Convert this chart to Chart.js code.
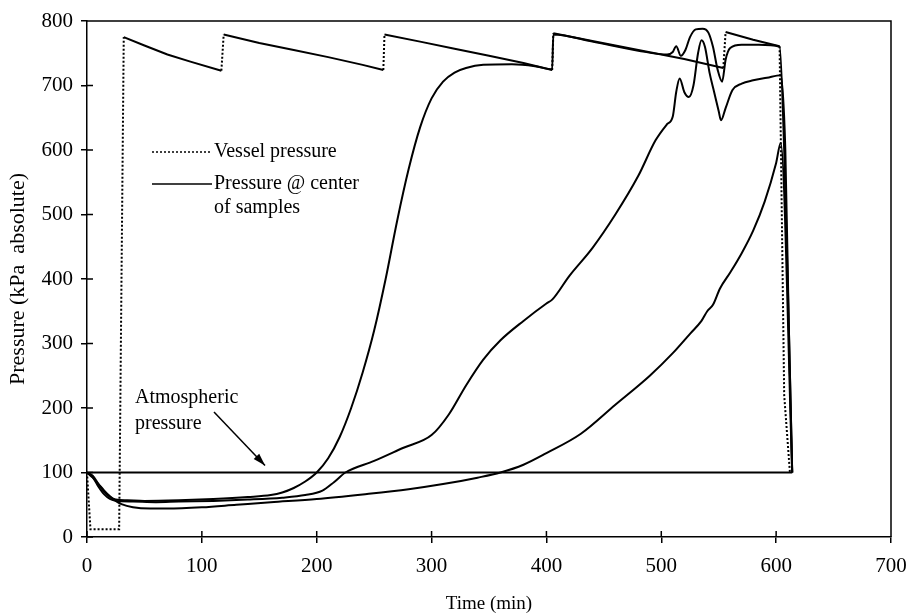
<!DOCTYPE html>
<html>
<head>
<meta charset="utf-8">
<script src="https://cdn.jsdelivr.net/npm/chart.js@4.4.1/dist/chart.umd.min.js"></script>
<style>
  html, body { margin:0; padding:0; background:#fff; }
  #wrap { width:911px; height:615px; }
</style>
</head>
<body>
<div id="wrap"><canvas id="chart" width="911" height="615"></canvas></div>
<script>
// ── data (time in min, pressure in kPa absolute) ──
var vesselTime = [0, 3, 28, 32, 50, 70, 90, 117, 119, 150, 180, 210, 240, 258, 259, 290, 320, 350, 380, 405, 406, 440, 480, 520, 554, 556, 580, 603, 607, 612];
var vesselP    = [100, 12, 12, 775, 762, 748, 737, 723, 779, 766, 755, 744, 732, 724, 779, 768, 757, 746, 735, 724, 781, 769, 755, 741, 727, 783, 771, 761, 220, 100];

var sampleATime = [0, 5, 10, 15, 20, 25, 35, 50, 80, 110, 140, 160, 170, 180, 190, 200, 210, 220, 230, 240, 250, 260, 270, 280, 290, 300, 310, 320, 330, 345, 370, 390, 405, 406, 440, 480, 505, 510, 513, 517, 521, 525, 530, 536, 541, 545, 549, 553, 556, 560, 570, 585, 603, 607, 611, 614];
var sampleAP    = [100, 95, 82, 70, 62, 58, 57, 56, 57, 59, 62, 65, 69, 76, 86, 100, 122, 155, 200, 255, 320, 400, 490, 570, 635, 680, 706, 720, 727, 732, 733, 730, 725, 779, 768, 754, 748, 752, 761, 746, 755, 775, 787, 788, 782, 760, 725, 706, 740, 758, 763, 763, 760, 600, 330, 100];

var sampleBTime = [0, 5, 10, 15, 20, 25, 40, 60, 80, 110, 140, 170, 190, 205, 215, 225, 250, 275, 300, 315, 330, 345, 360, 380, 400, 405, 420, 440, 460, 480, 495, 505, 510, 513, 516, 520, 524, 528, 532, 535, 538, 542, 546, 550, 552, 556, 562, 570, 580, 592, 604, 608, 611, 614];
var sampleBP    = [100, 93, 78, 66, 59, 56, 55, 54, 55, 56, 58, 61, 65, 72, 85, 100, 118, 138, 158, 190, 235, 275, 305, 335, 362, 368, 405, 448, 500, 560, 615, 640, 652, 690, 711, 690, 682, 700, 750, 770, 760, 720, 690, 660, 646, 665, 693, 703, 708, 712, 716, 600, 330, 100];

var sampleCTime = [0, 5, 10, 15, 20, 25, 30, 40, 55, 70, 100, 130, 160, 200, 240, 280, 310, 340, 360, 380, 400, 430, 460, 490, 510, 525, 535, 540, 545, 551, 560, 570, 580, 590, 600, 604, 614];
var sampleCP    = [100, 92, 82, 72, 63, 56, 51, 46, 44, 44, 46, 50, 54, 59, 66, 74, 82, 92, 100, 112, 130, 160, 205, 250, 285, 315, 335, 350, 360, 385, 410, 440, 475, 520, 580, 611, 100];

var atmTime = [0, 614];
var atmP    = [100, 100];

var xTicks = [0, 100, 200, 300, 400, 500, 600, 700];
var yTicks = [0, 100, 200, 300, 400, 500, 600, 700, 800];

function pts(t, p) { return t.map(function(v, i){ return {x:v, y:p[i]}; }); }

var FONT = '"Liberation Serif", "Times New Roman", serif';

// frame, inner tick marks, legend and annotation
var decor = {
  id:'decor',
  afterDraw: function(chart) {
    var ctx = chart.ctx, a = chart.chartArea, xs = chart.scales.x, ys = chart.scales.y;
    ctx.save();
    ctx.strokeStyle = '#000';
    ctx.lineWidth = 1.5;
    ctx.beginPath();
    ctx.moveTo(a.left, a.top); ctx.lineTo(a.right, a.top); ctx.lineTo(a.right, a.bottom);
    xTicks.forEach(function(v){ var px = xs.getPixelForValue(v); ctx.moveTo(px, a.bottom); ctx.lineTo(px, a.bottom - 6); });
    yTicks.forEach(function(v){ var py = ys.getPixelForValue(v); ctx.moveTo(a.left, py); ctx.lineTo(a.left + 6, py); });
    ctx.stroke();

    // legend
    ctx.lineWidth = 1.5;
    ctx.setLineDash([2, 2]);
    ctx.beginPath(); ctx.moveTo(152, 152); ctx.lineTo(212, 152); ctx.stroke();
    ctx.setLineDash([]);
    ctx.beginPath(); ctx.moveTo(152, 184); ctx.lineTo(212, 184); ctx.stroke();
    ctx.fillStyle = '#000';
    ctx.font = '20px ' + FONT;
    ctx.textBaseline = 'middle';
    ctx.textAlign = 'left';
    ctx.fillText('Vessel pressure', 214, 152);
    ctx.fillText('Pressure @ center', 214, 184);
    ctx.fillText('of samples', 214, 208);

    // atmospheric annotation
    ctx.fillText('Atmospheric', 135, 398);
    ctx.fillText('pressure', 135, 424);
    var x0 = 214, y0 = 412;
    var x1 = xs.getPixelForValue(155), y1 = ys.getPixelForValue(111);
    ctx.lineWidth = 1.5;
    ctx.beginPath(); ctx.moveTo(x0, y0); ctx.lineTo(x1, y1); ctx.stroke();
    var ang = Math.atan2(y1 - y0, x1 - x0);
    ctx.beginPath();
    ctx.moveTo(x1, y1);
    ctx.lineTo(x1 - 13*Math.cos(ang - 0.3), y1 - 13*Math.sin(ang - 0.3));
    ctx.lineTo(x1 - 13*Math.cos(ang + 0.3), y1 - 13*Math.sin(ang + 0.3));
    ctx.closePath(); ctx.fill();
    ctx.restore();
  }
};

function vesselDash(c) {
  var dx = Math.abs(c.p1.parsed.x - c.p0.parsed.x);
  if (c.p0.parsed.y > 700 && c.p1.parsed.y > 700 && dx >= 2 && Math.abs(c.p1.parsed.y - c.p0.parsed.y) < 40) return [];
  return [2, 2];
}

new Chart(document.getElementById('chart'), {
  type:'line',
  data:{
    datasets:[
      {label:'Vessel pressure', data:pts(vesselTime, vesselP), borderColor:'#000', borderWidth:2, pointRadius:0, tension:0,
        segment:{borderDash:vesselDash}},
      {label:'Sample 1', data:pts(sampleATime, sampleAP), borderColor:'#000', borderWidth:2, pointRadius:0, cubicInterpolationMode:'monotone'},
      {label:'Sample 2', data:pts(sampleBTime, sampleBP), borderColor:'#000', borderWidth:2, pointRadius:0, cubicInterpolationMode:'monotone'},
      {label:'Sample 3', data:pts(sampleCTime, sampleCP), borderColor:'#000', borderWidth:2, pointRadius:0, cubicInterpolationMode:'monotone'},
      {label:'Atmospheric pressure', data:pts(atmTime, atmP), borderColor:'#000', borderWidth:2, pointRadius:0}
    ]
  },
  options:{
    responsive:false, animation:false, devicePixelRatio:1,
    layout:{padding:{left:0, top:21, right:20, bottom:0}},
    plugins:{legend:{display:false}, tooltip:{enabled:false}},
    scales:{
      x:{type:'linear', min:0, max:700,
        afterFit:function(s){ s.height = 78; s.paddingLeft = 0; s.paddingRight = 0; },
        afterBuildTicks:function(s){ s.ticks = xTicks.map(function(v){return {value:v};}); },
        grid:{drawOnChartArea:false, color:'#000', tickLength:6, lineWidth:1.5},
        border:{color:'#000', width:1.5},
        ticks:{color:'#000', font:{family:FONT, size:21}, padding:11, maxRotation:0},
        title:{display:true, text:'Time (min)', color:'#000', font:{family:FONT, size:19}, padding:{top:0, bottom:0}}
      },
      y:{type:'linear', min:0, max:800,
        afterFit:function(s){ s.width = 87; s.paddingTop = 0; s.paddingBottom = 0; },
        afterBuildTicks:function(s){ s.ticks = yTicks.map(function(v){return {value:v};}); },
        grid:{drawOnChartArea:false, color:'#000', tickLength:6, lineWidth:1.5},
        border:{color:'#000', width:1.5},
        ticks:{color:'#000', font:{family:FONT, size:21}, padding:8},
        title:{display:true, text:'Pressure (kPa  absolute)', color:'#000', font:{family:FONT, size:22}, padding:{top:5, bottom:0}}
      }
    }
  },
  plugins:[decor]
});
</script>
</body>
</html>
